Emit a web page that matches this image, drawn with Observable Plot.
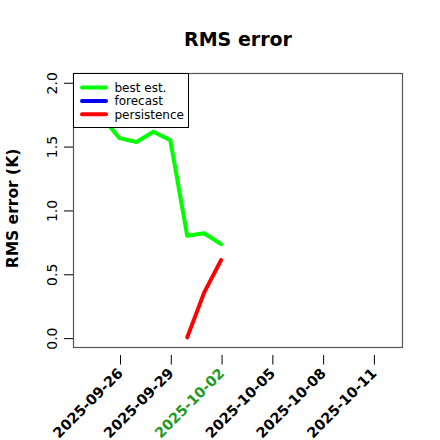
<!DOCTYPE html>
<html>
<head>
<meta charset="utf-8">
<script src="https://cdn.jsdelivr.net/npm/d3@7"></script>
<script src="https://cdn.jsdelivr.net/npm/@observablehq/plot@0.6"></script>
<style>
  html, body { margin: 0; padding: 0; background: #fff; }
  #wrap { position: relative; width: 440px; height: 440px; }
  #legend { position: absolute; left: 0; top: 0; }
</style>
</head>
<body>
<div id="wrap"></div>
<script>
// ---- data ----
const bestDates = ["2025-09-24","2025-09-25","2025-09-26","2025-09-27","2025-09-28","2025-09-29","2025-09-30","2025-10-01","2025-10-02"];
const bestValues = [1.99, 1.73, 1.57, 1.54, 1.62, 1.555, 0.805, 0.825, 0.74];
const forecastDates = [];
const forecastValues = [];
const persistenceDates = ["2025-09-30","2025-10-01","2025-10-02"];
const persistenceValues = [0.01, 0.36, 0.615];
const seriesNames = ["best est.", "forecast", "persistence"];
const seriesColors = ["#00ff00", "#0000ff", "#ff0000"];
const xTickLabels = ["2025-09-26","2025-09-29","2025-10-02","2025-10-05","2025-10-08","2025-10-11"];
const highlightTick = "2025-10-02";
const yTickValues = [0, 0.5, 1.0, 1.5, 2.0];
const xDataRange = ["2025-09-24", "2025-10-12"];
const yDataRange = [0.01, 1.997];
const titleText = "RMS error";
const yLabelText = "RMS error (K)";

// ---- build ----
const parse = d3.utcParse("%Y-%m-%d");
const fmt = d3.utcFormat("%Y-%m-%d");
function rows(dates, values, name) {
  return dates.map((d, i) => ({date: parse(d), value: values[i], series: name}));
}
const seriesData = [
  rows(bestDates, bestValues, seriesNames[0]),
  rows(forecastDates, forecastValues, seriesNames[1]),
  rows(persistenceDates, persistenceValues, seriesNames[2])
];
function pad(a, b) { const w = b - a; return [a - 0.04 * w, b + 0.04 * w]; }
const xr = xDataRange.map(parse).map(Number);
const xDomain = pad(xr[0], xr[1]).map(t => new Date(t));
const yDomain = pad(yDataRange[0], yDataRange[1]);
const xTicks = xTickLabels.map(parse);

const W = 440, H = 440;
const mL = 73, mR = 38, mT = 73, mB = 93;

const plot = Plot.plot({
  width: W, height: H,
  marginLeft: mL, marginRight: mR, marginTop: mT, marginBottom: mB,
  style: {fontFamily: "DejaVu Sans", background: "#fff", overflow: "visible"},
  x: {type: "utc", domain: xDomain},
  y: {domain: yDomain},
  marks: [
    Plot.frame({stroke: "#555", strokeWidth: 1.2}),
    ...seriesData.map((data, i) => Plot.line(data, {
      x: "date", y: "value", stroke: seriesColors[i], strokeWidth: 4,
      strokeLinejoin: "round", strokeLinecap: "round"
    })),
    Plot.axisX({
      ticks: xTicks, tickSize: 9.5, tickRotate: -45, tickPadding: 6,
      tickFormat: fmt, fontWeight: "bold", fontSize: 14.3, dy: 8, dx: 1,
      fill: d => fmt(d) === highlightTick ? "#229a22" : "#000",
      stroke: "#000", label: null
    }),
    Plot.axisY({
      ticks: yTickValues, tickSize: 9, tickRotate: -90, tickPadding: 8,
      tickFormat: d3.format(".1f"), fontSize: 14, fill: "#000", stroke: "#000", label: null
    }),
    Plot.text([titleText], {
      text: d => d, frameAnchor: "top", lineAnchor: "bottom", dy: -28,
      fontWeight: "bold", fontSize: 19, fill: "#000"
    }),
    Plot.text([yLabelText], {
      text: d => d, frameAnchor: "left", rotate: -90, textAnchor: "middle", lineAnchor: "middle",
      dx: -60, dy: -2, fontWeight: "bold", fontSize: 15.5, fill: "#000"
    })
  ]
});

const wrap = document.getElementById("wrap");
wrap.appendChild(plot);

// ---- legend overlay ----
const lg = d3.select(wrap).append("svg")
  .attr("id", "legend").attr("width", W).attr("height", H)
  .style("font-family", "DejaVu Sans");
const lx = mL + 0.5, ly = mT + 0.5, lw = 115, lh = 54;
lg.append("rect").attr("x", lx).attr("y", ly).attr("width", lw).attr("height", lh)
  .attr("fill", "#fff").attr("stroke", "#000").attr("stroke-width", 1);
seriesNames.forEach((name, i) => {
  const yy = ly + 14 + i * 13.4;
  lg.append("line").attr("x1", lx + 8.5).attr("x2", lx + 32.5).attr("y1", yy).attr("y2", yy)
    .attr("stroke", seriesColors[i]).attr("stroke-width", 4).attr("stroke-linecap", "round");
  lg.append("text").attr("x", lx + 41).attr("y", yy).attr("dy", "0.36em")
    .attr("font-size", 12).attr("fill", "#000").text(name);
});
</script>
</body>
</html>
